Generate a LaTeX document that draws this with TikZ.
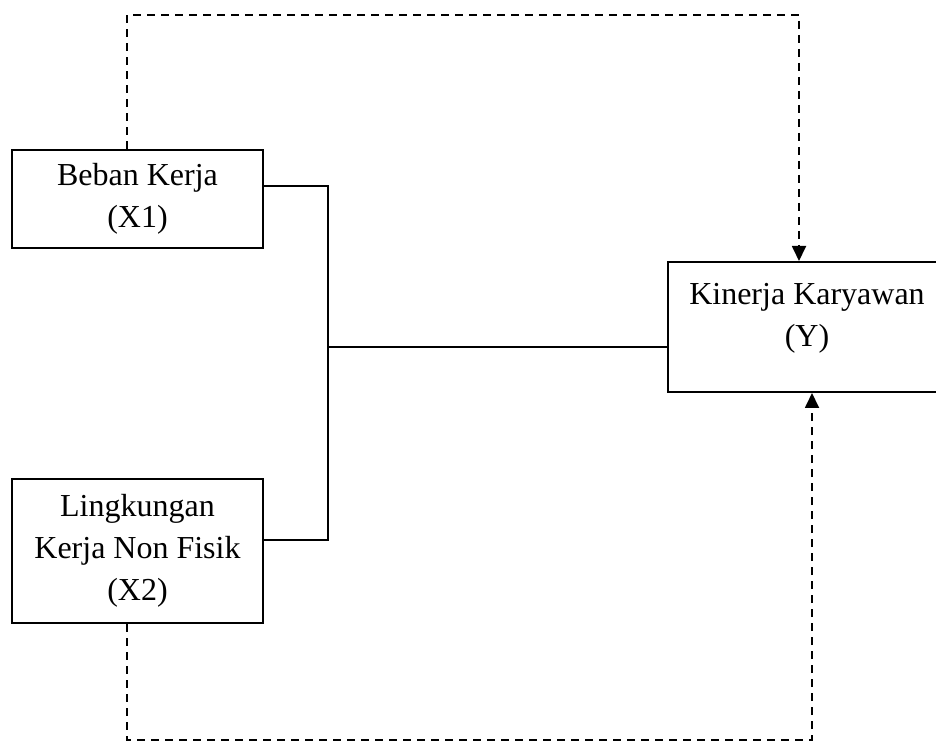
\documentclass[tikz,border=0pt]{standalone}
\usepackage{fontspec}
\setmainfont{Liberation Serif}
\usetikzlibrary{arrows.meta,positioning,calc}
\usepackage{xcolor}
\definecolor{ink}{HTML}{000000}
\tikzset{
  every node/.style={font=\fontsize{16}{21}\selectfont,text=ink},
  varbox/.style={draw=ink,line width=1pt,align=center,inner sep=2pt},
  link/.style={draw=ink,line width=0.9pt},
  dashlink/.style={draw=ink,line width=0.9pt,dash pattern=on 4pt off 3pt,-{Triangle[length=7.5pt,width=7pt]}},
}

\begin{document}
\begin{tikzpicture}[x=0.5pt,y=-0.5pt]
\useasboundingbox (0,0) rectangle (936,742);

% variables
\node[varbox,minimum width=125.5pt,minimum height=49pt] (x1) at (137.5,199) {Beban Kerja\\(X1)};
\node[varbox,minimum width=125.5pt,minimum height=72pt] (x2) at (137.5,551) {Lingkungan\\Kerja Non Fisik\\(X2)};
\node[varbox,minimum width=139pt,minimum height=65pt,text depth=12pt] (y) at (807,327) {Kinerja Karyawan\\(Y)};

% joint path
\coordinate (j1) at (328,186);
\coordinate (j2) at (328,540);
\coordinate (jm) at (328,347);
\draw[link] (x1.east |- j1) -- (j1) -- (j2) -- (x2.east |- j2);
\draw[link] (jm) -- (y.west |- jm);

% partial paths
\coordinate (t1) at (127,15);
\coordinate (t2) at (799,15);
\coordinate (b1) at (127,740);
\coordinate (b2) at (812,740);
\draw[dashlink] (x1.north -| t1) -- (t1) -- (t2) -- (y.north -| t2);
\draw[dashlink] (x2.south -| b1) -- (b1) -- (b2) -- (y.south -| b2);

\end{tikzpicture}
\end{document}
